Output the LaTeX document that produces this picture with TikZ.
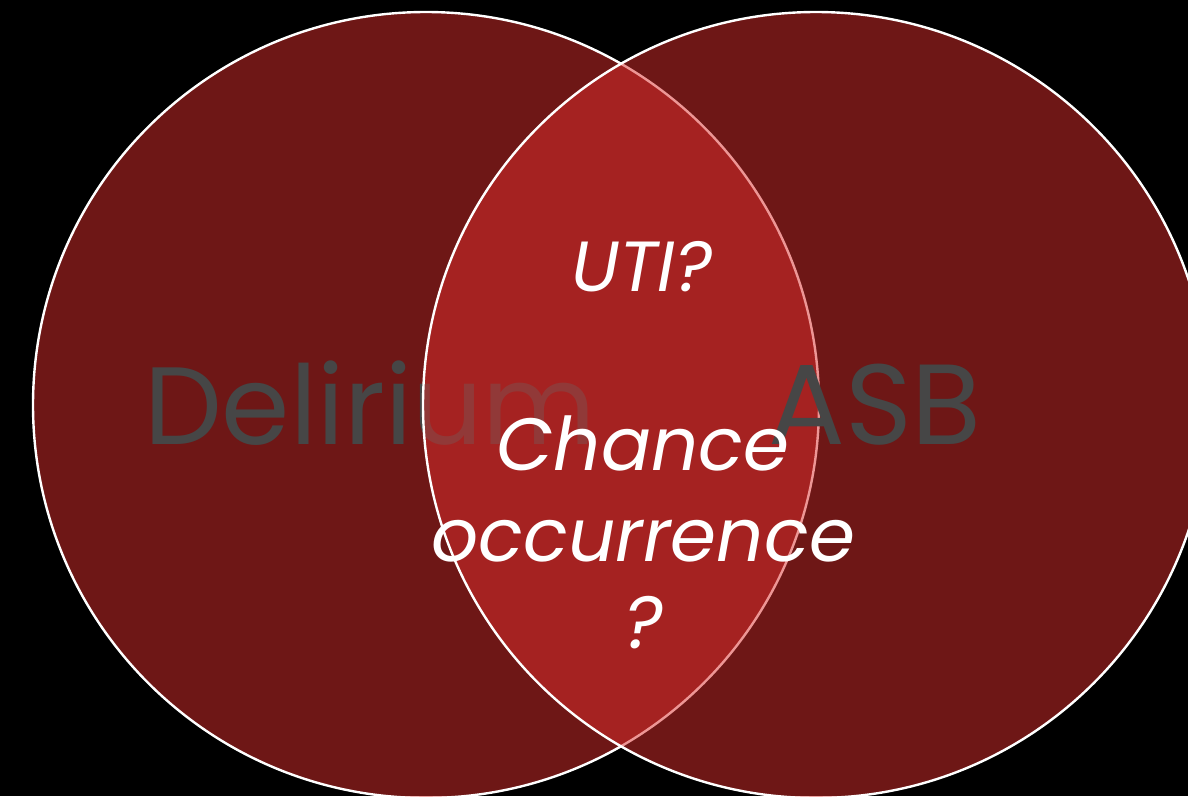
\documentclass[tikz,border=0pt]{standalone}
\usepackage{fontspec}
\setmainfont{Poppins}
\definecolor{circred}{RGB}{220,46,44}
\definecolor{labgray}{RGB}{70,70,70}
\tikzset{
  setfill/.style={fill=circred,fill opacity=0.5},
  setline/.style={draw=white,line width=2.4pt},
  biglabel/.style={text=labgray,font=\fontsize{110}{110}\selectfont,inner sep=0pt,anchor=base},
  whitelabel/.style={text=white,font=\itshape\fontsize{74}{89}\selectfont,inner sep=0pt,anchor=base,align=center}
}
\begin{document}
\begin{tikzpicture}[x=1pt,y=-1pt]
\fill[black] (0,0) rectangle (1188,796);
\useasboundingbox (0,0) rectangle (1188,796);
\begin{scope}
\clip (0,0) rectangle (1188,796);
\fill[setfill] (426,405) circle [radius=393pt];
\draw[setline] (426,405) circle [radius=393pt];
\node[biglabel] (del) at (370,444) {Delirium};
\fill[setfill] (816,405) circle [radius=393pt];
\draw[setline] (816,405) circle [radius=393pt];
\node[biglabel,font=\fontsize{114}{114}\selectfont] (asb) at (875,444) {ASB};
\node[whitelabel,font=\itshape\fontsize{71}{89}\selectfont] (uti) at (642,291) {UTI?};
\node[whitelabel] (ch1) at (643,470) {Chance};
\node[whitelabel] (ch2) at (643,561) {occurrence};
\node[whitelabel] (ch3) at (644,648) {?};
\end{scope}
\end{tikzpicture}
\end{document}
